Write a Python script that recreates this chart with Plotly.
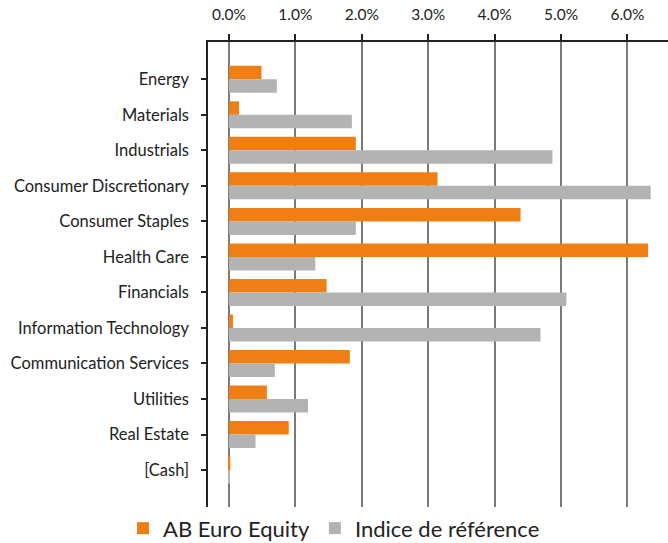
import plotly.graph_objects as go

# sector weights in %
sectors = ["Energy", "Materials", "Industrials", "Consumer Discretionary",
           "Consumer Staples", "Health Care", "Financials", "Information Technology",
           "Communication Services", "Utilities", "Real Estate", "[Cash]"]
fund = [0.49, 0.15, 1.91, 3.14, 4.39, 6.31, 1.47, 0.06, 1.82, 0.57, 0.90, 0.02]
benchmark = [0.72, 1.85, 4.87, 6.35, 1.91, 1.30, 5.08, 4.69, 0.69, 1.19, 0.40, 0.01]
tick_vals = [0, 1, 2, 3, 4, 5, 6]
tick_text = ["0.0%", "1.0%", "2.0%", "3.0%", "4.0%", "5.0%", "6.0%"]

ORANGE = "#EF7F15"
GREY = "#B3B3B3"
FONT = "Lato"

fig = go.Figure()
fig.add_trace(go.Bar(y=sectors, x=fund, orientation="h", name="AB Euro Equity",
                     marker=dict(color=ORANGE, line_width=0)))
fig.add_trace(go.Bar(y=sectors, x=benchmark, orientation="h", name="Indice de référence",
                     marker=dict(color=GREY, line_width=0)))

fig.update_layout(
    width=668, height=543,
    margin=dict(l=208, r=0, t=42, b=36, autoexpand=False),
    paper_bgcolor="white", plot_bgcolor="white",
    barmode="group", bargap=0.24, bargroupgap=0,
    font=dict(family=FONT, size=16, color="#222"),
    legend=dict(orientation="h", xref="container", yref="container",
                x=0.5, xanchor="center", y=0.027, yanchor="middle",
                font=dict(size=22, color="#222"), itemwidth=30,
                traceorder="normal"),
)

fig.update_xaxes(side="top", range=[-0.316, 6.61], tickvals=tick_vals, ticktext=tick_text,
                 showgrid=True, gridcolor="#7a7a7a", gridwidth=1.5,
                 zeroline=True, zerolinecolor="#7a7a7a", zerolinewidth=1.5,
                 showline=True, linecolor="#222", linewidth=1.5,
                 ticks="outside", ticklen=6, tickcolor="#222", tickwidth=1.5,
                 ticklabelstandoff=8, tickfont=dict(size=15.5))
fig.update_yaxes(categoryorder="array", categoryarray=sectors,
                 range=[12.04, -1.05], showgrid=False,
                 showline=True, linecolor="#222", linewidth=1.5,
                 ticks="outside", ticklen=5, tickcolor="#222", tickwidth=1.5,
                 ticklabelstandoff=9, tickfont=dict(size=16.5))

# drop the default body margin so the figure sits at the page corner
fig.write_html("out.html", config={"displayModeBar": False},
               post_script="document.body.style.margin='0';document.body.style.overflow='hidden';")
